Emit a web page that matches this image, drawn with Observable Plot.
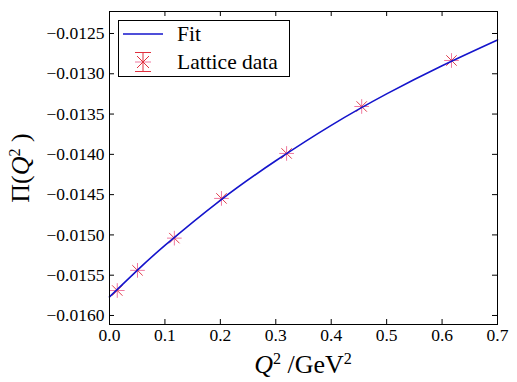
<!DOCTYPE html>
<html>
<head>
<meta charset="utf-8">
<script src="https://cdn.jsdelivr.net/npm/d3@7"></script>
<script src="https://cdn.jsdelivr.net/npm/@observablehq/plot@0.6"></script>
<style>
  body { margin: 0; background: #fff; }
  #wrap { position: relative; width: 517px; height: 382px; font-family: 'Liberation Serif'; }
  #wrap svg { position: absolute; left: 0; top: 0; }
  #wrap svg text { font-family: 'Liberation Serif' !important; }
  .legend { position: absolute; left: 118px; top: 20px; width: 170px; height: 55px; border: 1px solid #000; background: #fff; }
  .legend .row { position: absolute; left: 0; height: 24px; display: flex; align-items: center; font-size: 21.5px; white-space: nowrap; }
  .legend svg { position: static !important; }
  .xlabel { position: absolute; left: 0; width: 606px; top: 350px; text-align: center; font-size: 26px; white-space: nowrap; }
  .ylabel { position: absolute; left: 21px; top: 168px; transform: translate(-50%, -50%) rotate(-90deg); font-size: 26px; white-space: nowrap; }
  sup { font-size: 0.62em; vertical-align: 0.55em; line-height: 0; }
</style>
</head>
<body>
<div id="wrap"></div>
<script>
const xTicks = [0, 0.1, 0.2, 0.3, 0.4, 0.5, 0.6, 0.7];
const yTicks = [-0.016, -0.0155, -0.015, -0.0145, -0.014, -0.0135, -0.013, -0.0125];

const latticeQ2 = [0.014, 0.0505, 0.117, 0.202, 0.3195, 0.455, 0.617];
const latticePi = [-0.01569, -0.01544, -0.01504, -0.014547, -0.013989, -0.013406, -0.012835];

const fitQ2 = [0, 0.05, 0.1, 0.2, 0.3, 0.4, 0.5, 0.6, 0.7];
const fitPi = [-0.01577, -0.01544, -0.01513, -0.01457, -0.01408, -0.01364, -0.01325, -0.01290, -0.01258];

const lattice = latticeQ2.map((q, i) => ({q, p: latticePi[i]}));
const fit = fitQ2.map((q, i) => ({q, p: fitPi[i]}));

const W = 517, H = 382, mL = 109, mR = 20, mT = 11, mB = 58;
const pw = W - mL - mR, ph = H - mT - mB;
const tick = 5;
const FONT = "Liberation Serif";

const chart = Plot.plot({
  width: W, height: H,
  marginLeft: mL, marginRight: mR, marginTop: mT, marginBottom: mB,
  style: {fontFamily: FONT, fontSize: "17.5px", color: "#000", background: "transparent"},
  x: {domain: [0, 0.7]},
  y: {domain: [-0.016112, -0.012227]},
  marks: [
    Plot.axisX({ticks: xTicks, tickSize: 0, tickPadding: 4, tickFormat: d3.format(".1f"), label: null, fontSize: 17.5}),
    Plot.axisY({ticks: yTicks, tickSize: 0, tickPadding: 5, tickFormat: d3.format(".4f"), label: null, fontSize: 17.5}),
    Plot.tickX(xTicks, {x: d => d, insetTop: ph - tick, stroke: "#000"}),
    Plot.tickX(xTicks, {x: d => d, insetBottom: ph - tick, stroke: "#000"}),
    Plot.tickY(yTicks, {y: d => d, insetRight: pw - tick, stroke: "#000"}),
    Plot.tickY(yTicks, {y: d => d, insetLeft: pw - tick, stroke: "#000"}),
    Plot.dot(lattice, {x: "q", y: "p", symbol: "plus", r: 4.8, stroke: "#f07aa0", strokeWidth: 1}),
    Plot.dot(lattice, {x: "q", y: "p", symbol: "times", r: 4.8, stroke: "#e0404e", strokeWidth: 1}),
    Plot.line(fit, {x: "q", y: "p", curve: "natural", stroke: "#1414cc", strokeWidth: 1.6}),
    Plot.frame({stroke: "#000", strokeWidth: 1})
  ]
});

const wrap = document.getElementById("wrap");
wrap.appendChild(chart);

const legend = document.createElement("div");
legend.className = "legend";
legend.innerHTML = `
  <div class="row" style="top:1px;left:4px">
    <svg width="40" height="24"><line x1="0" x2="40" y1="12" y2="12" stroke="#1414cc" stroke-width="1.6"/></svg>
    <span style="margin-left:14px">Fit</span>
  </div>
  <div class="row" style="top:29px;left:14px">
    <svg width="20" height="24">
      <line x1="10" x2="10" y1="2" y2="22" stroke="#e0303e" stroke-width="1"/>
      <line x1="2" x2="18" y1="2.5" y2="2.5" stroke="#e0303e" stroke-width="1"/>
      <line x1="2" x2="18" y1="21.5" y2="21.5" stroke="#e0303e" stroke-width="1"/>
      <line x1="2" x2="18" y1="12" y2="12" stroke="#f07aa0" stroke-width="1"/>
      <line x1="4" x2="16" y1="6" y2="18" stroke="#e0303e" stroke-width="1"/>
      <line x1="16" x2="4" y1="6" y2="18" stroke="#e0303e" stroke-width="1"/>
    </svg>
    <span style="margin-left:24px">Lattice data</span>
  </div>`;
wrap.appendChild(legend);

const xl = document.createElement("div");
xl.className = "xlabel";
xl.innerHTML = `<i>Q</i><sup>2</sup> /GeV<sup>2</sup>`;
wrap.appendChild(xl);

const yl = document.createElement("div");
yl.className = "ylabel";
yl.innerHTML = `Π(<i>Q</i><sup>2</sup> )`;
wrap.appendChild(yl);
</script>
</body>
</html>
